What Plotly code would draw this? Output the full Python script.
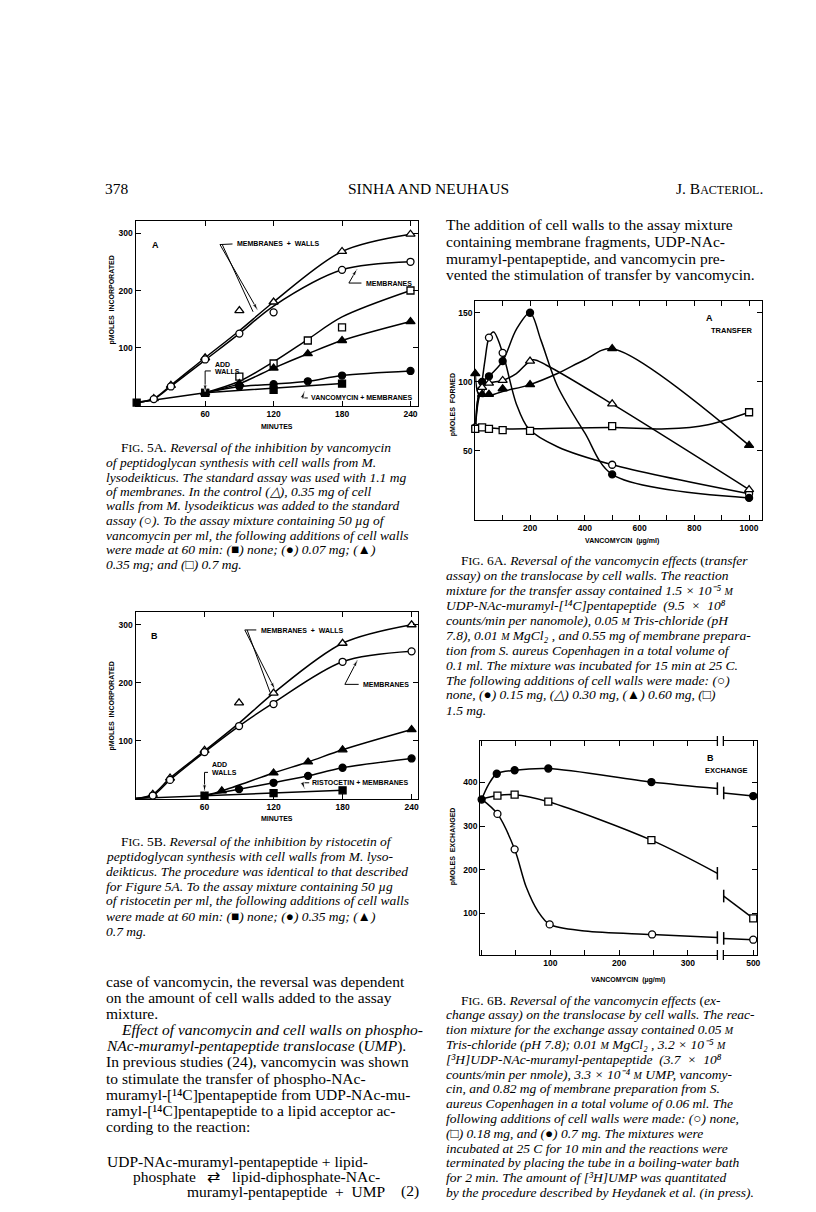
import plotly.graph_objects as go

W, H = 816, 1212

# ---------------- Fig 5A (vancomycin) ----------------
a5_tri_open_t = [15, 30, 60, 90, 120, 180, 240]
a5_tri_open_v = [12, 35, 83, 165, 180, 268, 298]
a5_tri_open_ct = [0, 15, 30, 60, 90, 120, 180, 240]
a5_tri_open_cv = [5, 12, 35, 83, 130, 180, 268, 298]

a5_circ_open_t = [15, 30, 60, 90, 120, 180, 240]
a5_circ_open_v = [11, 33, 80, 125, 162, 236, 250]
a5_circ_open_ct = [0, 15, 30, 60, 90, 120, 180, 240]
a5_circ_open_cv = [5, 11, 33, 79, 125, 173, 236, 250]

a5_sq_open_t = [60, 90, 120, 150, 180, 240]
a5_sq_open_v = [22, 50, 73, 113, 136, 200]
a5_sq_open_ct = [60, 90, 120, 150, 180, 240]
a5_sq_open_cv = [22, 42, 76, 115, 154, 200]

a5_tri_fill_t = [60, 90, 120, 150, 180, 240]
a5_tri_fill_v = [22, 38, 65, 90, 113, 146]

a5_circ_fill_t = [60, 90, 120, 150, 180, 240]
a5_circ_fill_v = [22, 33, 37, 42, 52, 60]

a5_sq_fill_t = [0, 60, 120, 180]
a5_sq_fill_v = [5, 22, 27, 38]
a5_sq_fill_ct = [0, 60, 180]
a5_sq_fill_cv = [5, 22, 38]

# ---------------- Fig 5B (ristocetin) ----------------
b5_tri_open_t = [15, 30, 60, 90, 120, 180, 240]
b5_tri_open_v = [7, 35, 83, 165, 182, 268, 300]
b5_tri_open_ct = [0, 15, 30, 60, 90, 120, 180, 240]
b5_tri_open_cv = [0, 7, 35, 82, 130, 182, 268, 300]

b5_circ_open_t = [15, 30, 60, 90, 120, 180, 240]
b5_circ_open_v = [5, 32, 80, 125, 163, 236, 254]
b5_circ_open_ct = [0, 15, 30, 60, 90, 120, 180, 240]
b5_circ_open_cv = [0, 5, 32, 80, 125, 165, 236, 254]

b5_tri_fill_t = [75, 120, 150, 180, 240]
b5_tri_fill_v = [13, 44, 63, 84, 119]
b5_tri_fill_ct = [60, 75, 120, 150, 180, 240]
b5_tri_fill_cv = [5, 13, 44, 63, 84, 119]

b5_circ_fill_t = [90, 120, 150, 180, 240]
b5_circ_fill_v = [16, 27, 39, 53, 69]
b5_circ_fill_ct = [60, 90, 120, 150, 180, 240]
b5_circ_fill_cv = [5, 16, 27, 39, 53, 69]

b5_sq_fill_t = [60, 120, 180]
b5_sq_fill_v = [5, 9, 14]
b5_sq_fill_ct = [0, 60, 120, 180]
b5_sq_fill_cv = [0, 5, 9, 14]

# ---------------- Fig 6A (transfer) ----------------
a6_circ_open_x = [0, 20, 50, 100, 500, 1000]
a6_circ_open_v = [67, 94, 132, 121, 40, 19]
a6_circ_open_cx = [0, 10, 20, 35, 50, 67, 100, 150, 195, 300, 500, 1000]
a6_circ_open_cv = [67, 85, 94, 115, 132, 136, 121, 84, 66, 53, 40, 19]

a6_circ_fill_x = [25, 50, 100, 200, 500, 1000]
a6_circ_fill_v = [100, 104, 115, 150, 33, 16]
a6_circ_fill_cx = [0, 10, 25, 50, 100, 150, 200, 240, 300, 400, 500, 1000]
a6_circ_fill_cv = [67, 88, 100, 104, 115, 138, 150, 130, 97, 63, 33, 16]

a6_tri_open_x = [25, 50, 100, 200, 500, 1000]
a6_tri_open_v = [96, 99, 101, 115, 84, 22]
a6_tri_open_cx = [0, 10, 25, 50, 100, 150, 210, 260, 500, 1000]
a6_tri_open_cv = [68, 88, 96, 99, 101, 106, 116, 112, 84, 22]

a6_tri_fill_x = [0, 25, 50, 100, 200, 500, 1000]
a6_tri_fill_v = [106, 91, 91, 95, 98, 124, 54]
a6_tri_fill_cx = [0, 15, 50, 100, 200, 300, 400, 500, 1000]
a6_tri_fill_cv = [106, 90, 90, 93, 98, 106, 116, 124, 54]

a6_sq_open_x = [0, 25, 50, 100, 200, 500, 1000]
a6_sq_open_v = [66, 67, 66, 65, 64.5, 68, 78]
a6_sq_open_cx = [0, 25, 100, 200, 500, 700, 850, 1000]
a6_sq_open_cv = [67, 67, 66, 66, 67, 66, 69, 78]

# ---------------- Fig 6B (exchange), broken x axis ----------------
b6_circ_fill_x = [0, 22, 48, 97, 247]
b6_circ_fill_v = [361, 420, 428, 432, 401]
b6_circ_fill_cx = [0, 10, 22, 48, 97, 247, 343]
b6_circ_fill_cv = [361, 395, 420, 428, 432, 401, 386]
b6_circ_fill_rx = [457, 500]
b6_circ_fill_rv = [376, 369]

b6_sq_open_x = [23, 48, 97, 247]
b6_sq_open_v = [370, 372, 356, 268]
b6_sq_open_cx = [0, 23, 48, 97, 247, 343]
b6_sq_open_cv = [362, 370, 372, 356, 268, 192]
b6_sq_open_rx = [457, 500]
b6_sq_open_rv = [140, 89]

b6_circ_open_x = [23, 48, 99, 248]
b6_circ_open_v = [328, 247, 75, 52]
b6_circ_open_cx = [0, 23, 48, 65, 82, 99, 150, 248, 343]
b6_circ_open_cv = [362, 328, 247, 160, 105, 75, 60, 52, 45]
b6_circ_open_rx = [457, 500]
b6_circ_open_rv = [43, 40]

# tick positions
ticks_min = [60, 120, 180, 240]
ticks_pmol5 = [100, 200, 300]
ticks_vanc6a = [200, 400, 600, 800, 1000]
ticks_pmol6a = [50, 100, 150]
ticks_vanc6b = [100, 200, 300]
ticks_vanc6b_right = [500]
ticks_pmol6b = [100, 200, 300, 400]

fig = go.Figure()
marker_traces = []


def px(x):
    return x / W


def py(y):
    return 1 - y / H


def add_series(xa, ya, mx, my, cx, cy, symbol, filled, size=7, linear=False):
    fig.add_trace(go.Scatter(
        x=cx, y=cy, mode='lines', xaxis=xa, yaxis=ya,
        line=dict(color='black', width=1.5, shape='linear' if linear else 'spline', smoothing=0.9),
        hoverinfo='skip', showlegend=False, cliponaxis=False
    ))
    marker_traces.append(go.Scatter(
        x=mx, y=my, mode='markers', xaxis=xa, yaxis=ya,
        marker=dict(symbol=symbol, size=size, color='black' if filled else 'white',
                    line=dict(color='black', width=1.3)),
        showlegend=False, cliponaxis=False
    ))


# 5A
add_series('x', 'y', a5_tri_open_t, a5_tri_open_v, a5_tri_open_ct, a5_tri_open_cv, 'triangle-up', False, 8)
add_series('x', 'y', a5_circ_open_t, a5_circ_open_v, a5_circ_open_ct, a5_circ_open_cv, 'circle', False)
add_series('x', 'y', a5_sq_open_t, a5_sq_open_v, a5_sq_open_ct, a5_sq_open_cv, 'square', False)
add_series('x', 'y', a5_tri_fill_t, a5_tri_fill_v, a5_tri_fill_t, a5_tri_fill_v, 'triangle-up', True, 8)
add_series('x', 'y', a5_circ_fill_t, a5_circ_fill_v, a5_circ_fill_t, a5_circ_fill_v, 'circle', True)
add_series('x', 'y', a5_sq_fill_t, a5_sq_fill_v, a5_sq_fill_ct, a5_sq_fill_cv, 'square', True, 7, True)

# 5B
add_series('x2', 'y2', b5_tri_open_t, b5_tri_open_v, b5_tri_open_ct, b5_tri_open_cv, 'triangle-up', False, 8)
add_series('x2', 'y2', b5_circ_open_t, b5_circ_open_v, b5_circ_open_ct, b5_circ_open_cv, 'circle', False)
add_series('x2', 'y2', b5_tri_fill_t, b5_tri_fill_v, b5_tri_fill_ct, b5_tri_fill_cv, 'triangle-up', True, 8)
add_series('x2', 'y2', b5_circ_fill_t, b5_circ_fill_v, b5_circ_fill_ct, b5_circ_fill_cv, 'circle', True)
add_series('x2', 'y2', b5_sq_fill_t, b5_sq_fill_v, b5_sq_fill_ct, b5_sq_fill_cv, 'square', True, 7, True)

# 6A
add_series('x3', 'y3', a6_circ_open_x, a6_circ_open_v, a6_circ_open_cx, a6_circ_open_cv, 'circle', False)
add_series('x3', 'y3', a6_circ_fill_x, a6_circ_fill_v, a6_circ_fill_cx, a6_circ_fill_cv, 'circle', True)
add_series('x3', 'y3', a6_tri_open_x, a6_tri_open_v, a6_tri_open_cx, a6_tri_open_cv, 'triangle-up', False, 8)
add_series('x3', 'y3', a6_tri_fill_x, a6_tri_fill_v, a6_tri_fill_cx, a6_tri_fill_cv, 'triangle-up', True, 8)
add_series('x3', 'y3', a6_sq_open_x, a6_sq_open_v, a6_sq_open_cx, a6_sq_open_cv, 'square', False)

# 6B, left and right parts of the broken axis
for mx, mv, cx, cv, rx, rv, sym, filled in [
    (b6_circ_fill_x, b6_circ_fill_v, b6_circ_fill_cx, b6_circ_fill_cv, b6_circ_fill_rx, b6_circ_fill_rv, 'circle', True),
    (b6_sq_open_x, b6_sq_open_v, b6_sq_open_cx, b6_sq_open_cv, b6_sq_open_rx, b6_sq_open_rv, 'square', False),
    (b6_circ_open_x, b6_circ_open_v, b6_circ_open_cx, b6_circ_open_cv, b6_circ_open_rx, b6_circ_open_rv, 'circle', False),
]:
    add_series('x4', 'y4', mx, mv, cx, cv, sym, filled)
    add_series('x5', 'y5', rx[-1:], rv[-1:], rx, rv, sym, filled, 7, True)
    # end caps at the axis break
    for xa, ya, ex, ev in [('x4', 'y4', cx[-1], cv[-1]), ('x5', 'y5', rx[0], rv[0])]:
        fig.add_trace(go.Scatter(x=[ex], y=[ev], mode='markers', xaxis=xa, yaxis=ya,
                                 marker=dict(symbol='line-ns', size=9, line=dict(color='black', width=1.5)),
                                 showlegend=False, cliponaxis=False))

for t in marker_traces:
    fig.add_trace(t)

tick_font = dict(family='Liberation Sans, Arial, sans-serif', size=8.5, color='black', weight='bold')
axis_base = dict(showline=True, linecolor='black', linewidth=1.3, ticks='inside', ticklen=5,
                 tickcolor='black', tickwidth=1.2, showgrid=False, zeroline=False,
                 tickfont=tick_font, fixedrange=True)


def ax(domain, rng, vals, minor=None, mirror='ticks', **kw):
    d = dict(axis_base)
    d.update(domain=domain, range=rng, tickmode='array', tickvals=vals, mirror=mirror)
    if minor:
        d['minor'] = dict(dtick=minor, tick0=0, ticks='inside', ticklen=5,
                          tickcolor='black', tickwidth=1.2, showgrid=False)
    d.update(kw)
    return d


fig.update_layout(
    width=W, height=H,
    margin=dict(l=0, r=0, t=0, b=0),
    paper_bgcolor='white', plot_bgcolor='white',
    showlegend=False,
    xaxis=ax([px(128), px(412)], [-1, 247], ticks_min, anchor='y'),
    yaxis=ax([py(398), py(213)], [-1, 321], ticks_pmol5, anchor='x'),
    xaxis2=ax([px(128), px(412)], [0, 246], ticks_min, anchor='y2'),
    yaxis2=ax([py(791), py(604)], [-1, 322], ticks_pmol5, anchor='x2'),
    xaxis3=ax([px(469), px(757)], [0, 1048], ticks_vanc6a, 100, anchor='y3'),
    yaxis3=ax([py(512), py(293)], [0, 158.5], ticks_pmol6a, anchor='x3'),
    xaxis4=ax([px(474), px(712)], [-2, 343], ticks_vanc6b, 50, anchor='y4'),
    yaxis4=ax([py(947), py(733)], [5, 495], ticks_pmol6b, mirror=False, anchor='x4'),
    xaxis5=ax([px(718), px(752)], [456.5, 505.8], ticks_vanc6b_right, anchor='y5'),
    yaxis5=ax([py(947), py(733)], [5, 495], ticks_pmol6b, mirror=False,
              anchor='x5', side='right', showticklabels=False),
)

# axis break marks on the top and bottom frame of 6B
for xb in [712, 718]:
    for yb in [733, 947]:
        fig.add_shape(type='line', xref='paper', yref='paper',
                      x0=px(xb), x1=px(xb), y0=py(yb - 5), y1=py(yb + 5),
                      line=dict(color='black', width=1.3))

lab_font = dict(family='Liberation Sans, Arial, sans-serif', size=7, color='black', weight='bold')


def label(text, x, y, xref, yref, anchor='left', size=None):
    f = dict(lab_font)
    if size:
        f['size'] = size
    fig.add_annotation(text=text, x=x, y=y, xref=xref, yref=yref, showarrow=False,
                       xanchor=anchor, yanchor='middle', font=f)


def callout(xs, ys, xa, ya, head=True):
    # leader line drawn as a trace; arrowhead is an 'arrow' marker on the last point
    n = len(xs)
    fig.add_trace(go.Scatter(
        x=xs, y=ys, mode='lines+markers' if head else 'lines', xaxis=xa, yaxis=ya,
        line=dict(color='black', width=1),
        marker=dict(symbol='arrow', angleref='previous', color='black',
                    size=[0] * (n - 1) + [7]),
        hoverinfo='skip', showlegend=False, cliponaxis=False
    ))


# 5A labels
label('A', 12, 280, 'x', 'y', size=9)
label('MEMBRANES  +  WALLS', 86, 281, 'x', 'y')
callout([84, 73, 106], [281, 280, 166], 'x', 'y')
callout([75, 102], [280, 163], 'x', 'y', False)
label('MEMBRANES', 199, 213, 'x', 'y')
callout([197, 186, 193], [213, 213, 237], 'x', 'y')
label('ADD', 67, 72, 'x', 'y')
label('WALLS', 67, 59, 'x', 'y')
callout([65, 60, 60], [60, 60, 24], 'x', 'y')
label('VANCOMYCIN + MEMBRANES', 151, 13, 'x', 'y')
callout([150, 145, 147], [13, 13, 24], 'x', 'y')

# 5B labels
label('B', 12, 280, 'x2', 'y2', size=9)
label('MEMBRANES  +  WALLS', 107, 290, 'x2', 'y2')
callout([105, 95, 121], [291, 291, 189], 'x2', 'y2')
callout([97, 117], [291, 183], 'x2', 'y2', False)
label('MEMBRANES', 196, 197, 'x2', 'y2')
callout([194, 182, 193], [197, 197, 239], 'x2', 'y2')
label('ADD', 65, 58, 'x2', 'y2')
label('WALLS', 65, 45, 'x2', 'y2')
callout([63, 60, 60], [45, 45, 12], 'x2', 'y2')
label('RISTOCETIN + MEMBRANES', 152, 27, 'x2', 'y2')
callout([151, 145, 147], [27, 27, 17], 'x2', 'y2')

# 6A / 6B labels
label('A', 835, 146, 'x3', 'y3', size=9)
label('TRANSFER', 855, 137, 'x3', 'y3', size=7.5)
label('B', px(700), py(750), 'paper', 'paper', size=9)
label('EXCHANGE', px(698), py(762), 'paper', 'paper', size=7.5)

# axis titles
axt = dict(lab_font)
axt['size'] = 7
for text, x, y, ang in [
    ('MINUTES', 270, 418, 0), ('MINUTES', 270, 810, 0),
    ('VANCOMYCIN  (µg/ml)', 616, 533, 0), ('VANCOMYCIN  (µg/ml)', 622, 972, 0),
    ('pMOLES  INCORPORATED', 104, 292, -90), ('pMOLES  INCORPORATED', 104, 698, -90),
    ('pMOLES  FORMED', 447, 397, -90), ('pMOLES  EXCHANGED', 447, 838, -90),
]:
    fig.add_annotation(text=text, x=px(x), y=py(y), xref='paper', yref='paper', showarrow=False,
                       xanchor='center', yanchor='middle', textangle=ang, font=axt)

# ---------------- page text ----------------
serif = 'Liberation Serif, Times New Roman, serif'
SM = "<span style='font-size:10px'>M</span>"
FIG = "F<span style='font-size:11px'>IG</span>."
BODY = 15.5
CAP = 13.5


def text_line(text, x, y, size, anchor='left'):
    fig.add_annotation(text=text, x=px(x), y=py(y), xref='paper', yref='paper', showarrow=False,
                       xanchor=anchor, yanchor='middle',
                       font=dict(family=serif, size=size, color='black'))


def block(lines, x, y0, dy, size, italic=False):
    for i, ln in enumerate(lines):
        t = f'<i>{ln}</i>' if italic else ln
        text_line(t, x, y0 + i * dy, size)


# header
text_line('378', 95, 180, BODY)
text_line('SINHA AND NEUHAUS', 422, 180, BODY, 'center')
text_line("J. B<span style='font-size:12px'>ACTERIOL</span>.", 760, 180, BODY, 'right')

block(['The addition of cell walls to the assay mixture',
       'containing membrane fragments, UDP-NAc-',
       'muramyl-pentapeptide, and vancomycin pre-',
       'vented the stimulation of transfer by vancomycin.'], 438, 217, 16.5, BODY)

cap5a = [f'{FIG} 5A. <i>Reversal of the inhibition by vancomycin</i>',
         'of peptidoglycan synthesis with cell walls from M.',
         'lysodeikticus. The standard assay was used with 1.1 mg',
         'of membranes. In the control (△), 0.35 mg of cell',
         'walls from M. lysodeikticus was added to the standard',
         'assay (○). To the assay mixture containing 50 µg of',
         'vancomycin per ml, the following additions of cell walls',
         'were made at 60 min: (■) none; (●) 0.07 mg; (▲)',
         '0.35 mg; and (□) 0.7 mg.']
text_line(cap5a[0], 111, 440, CAP)
block(cap5a[1:], 96, 440 + 14.5, 14.5, CAP, italic=True)

cap5b = [f'{FIG} 5B. <i>Reversal of the inhibition by ristocetin of</i>',
         'peptidoglycan synthesis with cell walls from M. lyso-',
         'deikticus. The procedure was identical to that described',
         'for Figure 5A. To the assay mixture containing 50 µg',
         'of ristocetin per ml, the following additions of cell walls',
         'were made at 60 min: (■) none; (●) 0.35 mg; (▲)',
         '0.7 mg.']
text_line(cap5b[0], 111, 833, CAP)
block(cap5b[1:], 96, 848, 15, CAP, italic=True)

body = ['case of vancomycin, the reversal was dependent',
        'on the amount of cell walls added to the assay',
        'mixture.',
        '<i>Effect of vancomycin and cell walls on phospho-</i>',
        '<i>NAc-muramyl-pentapeptide translocase</i> (<i>UMP</i>).',
        'In previous studies (24), vancomycin was shown',
        'to stimulate the transfer of phospho-NAc-',
        'muramyl-[¹⁴C]pentapeptide from UDP-NAc-mu-',
        'ramyl-[¹⁴C]pentapeptide to a lipid acceptor ac-',
        'cording to the reaction:']
for i, ln in enumerate(body):
    text_line(ln, 111 if i == 3 else 96, 973 + i * 16.2, BODY)

text_line('UDP-NAc-muramyl-pentapeptide + lipid-', 97, 1153, BODY)
text_line('phosphate   ⇄   lipid-diphosphate-NAc-', 123, 1168, BODY)
text_line('muramyl-pentapeptide  +  UMP', 178, 1183, BODY)
text_line('(2)', 415, 1183, BODY, 'right')

cap6a = [f'{FIG} 6A. <i>Reversal of the vancomycin effects</i> (<i>transfer</i>',
         'assay) on the translocase by cell walls. The reaction',
         f'mixture for the transfer assay contained 1.5 × 10⁻⁵ {SM}',
         'UDP-NAc-muramyl-[¹⁴C]pentapeptide  (9.5  ×  10⁸',
         f'counts/min per nanomole), 0.05 {SM} Tris-chloride (pH',
         f'7.8), 0.01 {SM} MgCl₂ , and 0.55 mg of membrane prepara-',
         'tion from S. aureus Copenhagen in a total volume of',
         '0.1 ml. The mixture was incubated for 15 min at 25 C.',
         'The following additions of cell walls were made: (○)',
         'none, (●) 0.15 mg, (△) 0.30 mg, (▲) 0.60 mg, (□)',
         '1.5 mg.']
text_line(cap6a[0], 453, 552, CAP)
block(cap6a[1:], 438, 567, 15, CAP, italic=True)

cap6b = [f'{FIG} 6B. <i>Reversal of the vancomycin effects</i> (<i>ex-</i>',
         'change assay) on the translocase by cell walls. The reac-',
         f'tion mixture for the exchange assay contained 0.05 {SM}',
         f'Tris-chloride (pH 7.8); 0.01 {SM} MgCl₂ , 3.2 × 10⁻⁵ {SM}',
         '[³H]UDP-NAc-muramyl-pentapeptide  (3.7  ×  10⁸',
         f'counts/min per nmole), 3.3 × 10⁻⁴ {SM} UMP, vancomy-',
         'cin, and 0.82 mg of membrane preparation from S.',
         'aureus Copenhagen in a total volume of 0.06 ml. The',
         'following additions of cell walls were made: (○) none,',
         '(□) 0.18 mg, and (●) 0.7 mg. The mixtures were',
         'incubated at 25 C for 10 min and the reactions were',
         'terminated by placing the tube in a boiling-water bath',
         'for 2 min. The amount of [³H]UMP was quantitated',
         'by the procedure described by Heydanek et al. (in press).']
text_line(cap6b[0], 453, 992, CAP)
block(cap6b[1:], 438, 992 + 14.8, 14.8, CAP, italic=True)

fig.write_html('out.html')
